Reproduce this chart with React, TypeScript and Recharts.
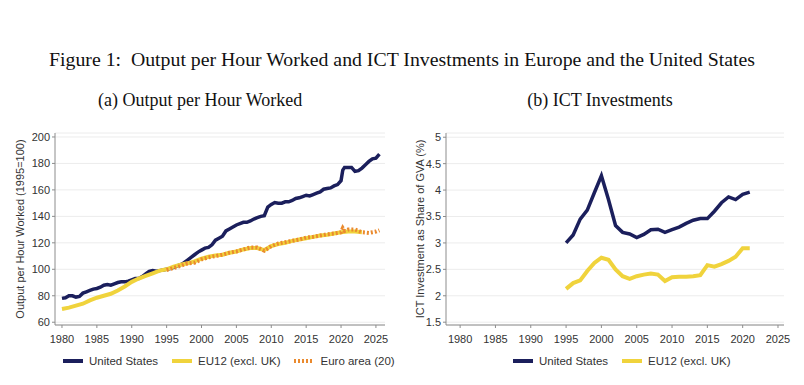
import React from 'react';
import { LineChart, Line, XAxis, YAxis, CartesianGrid } from 'recharts';

// ---------- Data ----------
const NAVY = '#1b1f5c';
const YELLOW = '#f0d33c';
const ORANGE = '#ea8a2e';

const yearTicks = [1980, 1985, 1990, 1995, 2000, 2005, 2010, 2015, 2020, 2025];
const outputTicks = [60, 80, 100, 120, 140, 160, 180, 200];
const ictTicks = [1.5, 2, 2.5, 3, 3.5, 4, 4.5, 5];

// Output per hour worked (1995=100): [year, value]
const usOutput: [number, number][] = [
  [1980, 78], [1980.5, 78.5], [1981, 80], [1981.5, 80], [1982, 79], [1982.5, 79.5],
  [1983, 82], [1983.5, 83], [1984, 84], [1984.5, 85], [1985, 85.5], [1985.5, 86.5],
  [1986, 88], [1986.5, 88.5], [1987, 88], [1987.5, 89], [1988, 90], [1988.5, 90.5],
  [1989, 90.5], [1989.5, 91], [1990, 92], [1990.5, 93], [1991, 93], [1991.5, 94.5],
  [1992, 96.5], [1992.5, 98.5], [1993, 99], [1993.5, 98.5], [1994, 99], [1994.5, 99.5],
  [1995, 100], [1995.5, 100.5], [1996, 101.5], [1996.5, 102.5], [1997, 103.5], [1997.5, 105],
  [1998, 107], [1998.5, 109], [1999, 111], [1999.5, 113], [2000, 114.5], [2000.5, 116],
  [2001, 116.5], [2001.5, 118.5], [2002, 122], [2002.5, 123.5], [2003, 125], [2003.5, 129],
  [2004, 130.5], [2004.5, 132], [2005, 133.5], [2005.5, 134.5], [2006, 135.5], [2006.5, 135.5],
  [2007, 136.5], [2007.5, 138], [2008, 139], [2008.5, 140], [2009, 140.5], [2009.5, 147],
  [2010, 149], [2010.5, 150.5], [2011, 150], [2011.5, 150], [2012, 151], [2012.5, 151],
  [2013, 152], [2013.5, 153.5], [2014, 154], [2014.5, 155], [2015, 156], [2015.5, 155.5],
  [2016, 156.5], [2016.5, 157.5], [2017, 158.5], [2017.5, 160.5], [2018, 161], [2018.5, 161.5],
  [2019, 163], [2019.5, 164], [2020, 167], [2020.25, 175], [2020.5, 177], [2021, 177],
  [2021.5, 177], [2022, 174], [2022.5, 174.5], [2023, 176.5], [2023.5, 179], [2024, 181.5],
  [2024.5, 183.5], [2025, 184], [2025.5, 187],
];

const eu12Output: [number, number][] = [
  [1980, 70], [1981, 71], [1982, 72.5], [1983, 74], [1984, 76.5], [1985, 78.5],
  [1986, 80], [1987, 81.5], [1988, 84], [1989, 87], [1990, 90.5], [1991, 93],
  [1992, 95], [1993, 97], [1994, 99], [1995, 100], [1996, 102], [1997, 103.5],
  [1998, 104.5], [1999, 106], [2000, 108], [2001, 109.5], [2002, 110.5], [2003, 111],
  [2004, 112.5], [2005, 113.5], [2006, 115], [2007, 116], [2008, 116], [2009, 114.5],
  [2010, 117.5], [2011, 119], [2012, 120], [2013, 121.5], [2014, 122.5], [2015, 123.5],
  [2016, 124.5], [2017, 125.5], [2018, 126], [2019, 127], [2020, 128], [2021, 128.5],
  [2022, 128.5], [2023, 128],
];

const euroAreaOutput: [number, number][] = [
  [1995, 99.5], [1996, 101], [1997, 102.5], [1998, 104.5], [1999, 105], [2000, 107.5],
  [2001, 109], [2002, 110], [2003, 111], [2004, 112.5], [2005, 113.5], [2006, 115],
  [2007, 116.5], [2008, 116.5], [2009, 114], [2010, 117.5], [2011, 119.5], [2012, 120.5],
  [2013, 121.5], [2014, 122.5], [2015, 124], [2016, 124.5], [2017, 125.5], [2018, 126.5],
  [2019, 127], [2020, 128], [2020.25, 131], [2020.5, 129], [2021, 130], [2022, 130],
  [2022.5, 129], [2023, 128], [2024, 127.5], [2025, 128.5], [2025.5, 129.5],
];

// ICT investment as share of GVA (%)
const ictYears = [
  1995, 1996, 1997, 1998, 1999, 2000, 2001, 2002, 2003, 2004, 2005, 2006, 2007, 2008,
  2009, 2010, 2011, 2012, 2013, 2014, 2015, 2016, 2017, 2018, 2019, 2020, 2021,
];
const usIct = [
  3.0, 3.15, 3.45, 3.62, 3.95, 4.27, 3.82, 3.33, 3.2, 3.17, 3.1, 3.16, 3.25, 3.26,
  3.2, 3.25, 3.3, 3.37, 3.43, 3.46, 3.46, 3.6, 3.76, 3.87, 3.82, 3.92, 3.96,
];
const eu12Ict = [
  2.13, 2.24, 2.29, 2.47, 2.62, 2.72, 2.68, 2.5, 2.37, 2.32, 2.37, 2.4, 2.42, 2.4,
  2.28, 2.35, 2.36, 2.36, 2.37, 2.39, 2.58, 2.55, 2.6, 2.66, 2.74, 2.9, 2.9,
];

const toRows = (pts: [number, number][]) => pts.map(([year, v]) => ({ year, v }));
const ictRows = ictYears.map((year, i) => ({ year, us: usIct[i], eu: eu12Ict[i] }));

// ---------- Styles ----------
const SANS = '"Liberation Sans", Arial, sans-serif';
const SERIF = '"Liberation Serif", "Times New Roman", serif';
const tickStyle = { fontSize: 11, fill: '#333', fontFamily: SANS };
const axisLine = { stroke: '#8c8c8c', strokeWidth: 1 };

const Swatch = ({ color, dashed }: { color: string; dashed?: boolean }) => (
  <svg width={20} height={6} style={{ marginRight: 6, display: 'block' }}>
    <line
      x1={0} y1={3} x2={20} y2={3}
      stroke={color} strokeWidth={4}
      strokeDasharray={dashed ? '2 2' : undefined}
    />
  </svg>
);

const LegendItem = ({ color, label, dashed }: { color: string; label: string; dashed?: boolean }) => (
  <div style={{ display: 'flex', alignItems: 'center', marginRight: 14 }}>
    <Swatch color={color} dashed={dashed} />
    <span style={{ fontFamily: SANS, fontSize: 11.5, color: '#333' }}>{label}</span>
  </div>
);

export default function App() {
  return (
    <div
      style={{
        position: 'absolute', left: 0, top: 0, width: 804, height: 385,
        background: '#fff', overflow: 'hidden',
      }}
    >
      <div
        style={{
          position: 'absolute', left: 0, width: 804, top: 48, textAlign: 'center',
          fontFamily: SERIF, fontSize: 19.8, color: '#111', whiteSpace: 'nowrap',
        }}
      >
        Figure 1:&nbsp; Output per Hour Worked and ICT Investments in Europe and the United States
      </div>
      <div
        style={{
          position: 'absolute', left: 98, width: 200, top: 90, textAlign: 'center',
          fontFamily: SERIF, fontSize: 18, color: '#111', whiteSpace: 'nowrap',
        }}
      >
        (a) Output per Hour Worked
      </div>
      <div
        style={{
          position: 'absolute', left: 500, width: 200, top: 90, textAlign: 'center',
          fontFamily: SERIF, fontSize: 18, color: '#111', whiteSpace: 'nowrap',
        }}
      >
        (b) ICT Investments
      </div>

      {/* Left chart */}
      <div style={{ position: 'absolute', left: 0, top: 0 }}>
        <LineChart width={400} height={385} margin={{ top: 133, right: 15, bottom: 40, left: 10 }}>
          <CartesianGrid horizontal vertical={false} stroke="#ececec" />
          <XAxis
            type="number" dataKey="year" domain={[1979, 2026.3]} ticks={yearTicks}
            allowDuplicatedCategory={false}
            tick={tickStyle} tickSize={3} tickMargin={7} height={20}
            axisLine={axisLine} tickLine={axisLine} interval={0}
          />
          <YAxis
            type="number" domain={[57.9, 203]} ticks={outputTicks} width={45}
            tick={tickStyle} tickSize={3} tickMargin={2}
            axisLine={axisLine} tickLine={axisLine} interval={0}
          />
          <Line data={toRows(usOutput)} dataKey="v" stroke={NAVY} strokeWidth={3.5} dot={false} isAnimationActive={false} />
          <Line data={toRows(eu12Output)} dataKey="v" stroke={YELLOW} strokeWidth={4} dot={false} isAnimationActive={false} />
          <Line data={toRows(euroAreaOutput)} dataKey="v" stroke={ORANGE} strokeWidth={4} strokeDasharray="2 2" dot={false} isAnimationActive={false} />
        </LineChart>
      </div>

      {/* Right chart */}
      <div style={{ position: 'absolute', left: 400, top: 0 }}>
        <LineChart width={404} height={385} data={ictRows} margin={{ top: 133, right: 20, bottom: 40, left: 10 }}>
          <CartesianGrid horizontal vertical={false} stroke="#ececec" />
          <XAxis
            type="number" dataKey="year" domain={[1978, 2025.85]} ticks={yearTicks}
            tick={tickStyle} tickSize={3} tickMargin={7} height={20}
            axisLine={axisLine} tickLine={axisLine} interval={0}
          />
          <YAxis
            type="number" domain={[1.447, 5.08]} ticks={ictTicks} width={36}
            tick={tickStyle} tickSize={3} tickMargin={2}
            axisLine={axisLine} tickLine={axisLine} interval={0}
          />
          <Line dataKey="us" stroke={NAVY} strokeWidth={3.5} dot={false} isAnimationActive={false} />
          <Line dataKey="eu" stroke={YELLOW} strokeWidth={4} dot={false} isAnimationActive={false} />
        </LineChart>
      </div>

      {/* Y axis titles */}
      <div style={{ position: 'absolute', left: 20, top: 229, width: 0, height: 0 }}>
        <div
          style={{
            position: 'absolute', transform: 'translate(-50%, -50%) rotate(-90deg)',
            fontFamily: SANS, fontSize: 11, color: '#333', whiteSpace: 'nowrap',
          }}
        >
          Output per Hour Worked (1995=100)
        </div>
      </div>
      <div style={{ position: 'absolute', left: 420, top: 229, width: 0, height: 0 }}>
        <div
          style={{
            position: 'absolute', transform: 'translate(-50%, -50%) rotate(-90deg)',
            fontFamily: SANS, fontSize: 11, color: '#333', whiteSpace: 'nowrap',
          }}
        >
          ICT Investment as Share of GVA (%)
        </div>
      </div>

      {/* Legends */}
      <div style={{ position: 'absolute', left: 63, top: 355, display: 'flex' }}>
        <LegendItem color={NAVY} label="United States" />
        <LegendItem color={YELLOW} label="EU12 (excl. UK)" />
        <LegendItem color={ORANGE} label="Euro area (20)" dashed />
      </div>
      <div style={{ position: 'absolute', left: 513, top: 355, display: 'flex' }}>
        <LegendItem color={NAVY} label="United States" />
        <LegendItem color={YELLOW} label="EU12 (excl. UK)" />
      </div>
    </div>
  );
}
